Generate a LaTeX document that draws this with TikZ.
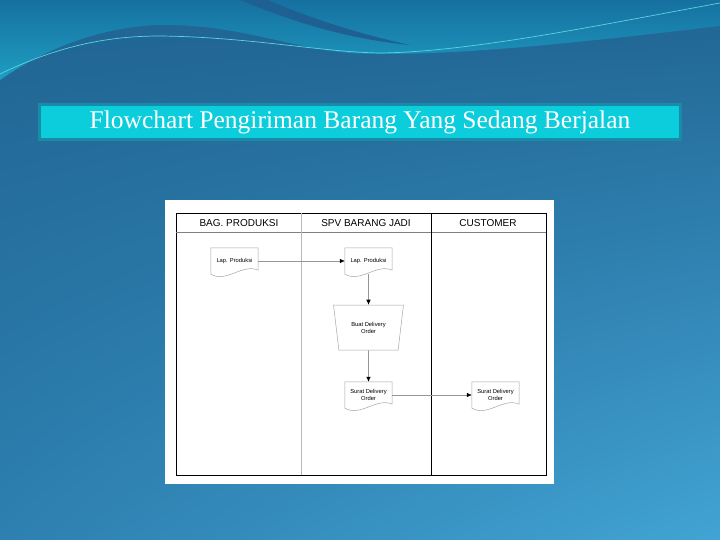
\documentclass[tikz,border=0pt]{standalone}
\usepackage{fontspec}
\setmainfont{Liberation Serif}
\newfontfamily\chartfont{Liberation Sans}
\usetikzlibrary{shapes.geometric,arrows.meta,calc,shadings}

\definecolor{bgdark}{RGB}{32,100,146}
\definecolor{bgmid}{RGB}{45,128,176}
\definecolor{bglight}{RGB}{66,164,212}
\definecolor{bandtop}{RGB}{22,112,160}
\definecolor{bandlow}{RGB}{30,158,194}
\definecolor{waveline}{RGB}{90,212,226}
\definecolor{swoosh}{RGB}{30,96,146}
\definecolor{titlefill}{RGB}{12,205,220}
\definecolor{titleedge}{RGB}{24,140,166}
\definecolor{docline}{RGB}{165,165,165}
\definecolor{flowline}{RGB}{150,150,150}

\tikzset{
  docbox/.style={minimum width=47pt, minimum height=26pt, inner sep=1pt, align=center,
    font=\chartfont\fontsize{5.8}{7}\selectfont},
  lanehead/.style={font=\chartfont\fontsize{10}{12}\selectfont},
  flow/.style={draw=flowline, line width=0.6pt, -{Latex[length=5pt,width=4.5pt,color=black]}},
}

\begin{document}
\begin{tikzpicture}[x=1pt, y=-1pt]
    \useasboundingbox (0,0) rectangle (720,540);

    % Background
    \shade[upper left=bgdark, upper right=bgdark, lower left=bgmid, lower right=bglight]
        (0,0) rectangle (720,540);
    \shade[top color=bandtop, bottom color=bandlow] (0,0) -- (0,80) .. controls (50,45) and (110,25) .. (165,25)
        .. controls (240,25) and (290,48) .. (350,53) .. controls (450,58) and (600,40) .. (720,26)
        -- (720,0) -- cycle;
    \fill[swoosh] (240,0) .. controls (290,20) and (340,38) .. (410,45)
        .. controls (350,32) and (300,14) .. (268,0) -- cycle;
    \draw[waveline, line width=0.7pt] (0,74) .. controls (60,45) and (110,36) .. (160,36)
        .. controls (250,37) and (320,52) .. (380,53) .. controls (470,52) and (600,25) .. (720,3);

    % Title
    \node[draw=titleedge, line width=2.5pt, fill=titlefill, minimum width=641pt, minimum height=35pt,
        text=white, font=\fontsize{25.5}{28}\selectfont] (title) at (360,122)
        {Flowchart Pengiriman Barang Yang Sedang Berjalan};

    % Flowchart sheet
    \fill[white] (165,200) rectangle (554,484);
    \draw[black, line width=0.8pt] (176,213) rectangle (546,475);
    \draw[gray, line width=0.6pt] (176,232) -- (546,232);
    \draw[docline!80, line width=0.8pt] (301,213) -- (301,475);
    \draw[black, line width=0.8pt] (431,213) -- (431,475);

    % Lane headers
    \node[lanehead] (prod) at (239,223) {BAG. PRODUKSI};
    \node[lanehead] (spv) at (366,223) {SPV BARANG JADI};
    \node[lanehead] (cust) at (488,223) {CUSTOMER};

    % Documents and process
    \node[docbox] (lap1) at (234.5,261) {Lap. Produksi};
    \node[docbox] (lap2) at (368.5,261) {Lap. Produksi};
    \node[trapezium, trapezium angle=76, shape border rotate=180, trapezium stretches=true,
        minimum width=70pt, minimum height=45pt, draw=docline, line width=0.5pt, align=center,
        inner sep=1pt, font=\chartfont\fontsize{5.8}{7}\selectfont] (buat) at (368.5,327.5)
        {Buat Delivery\\Order};
    \node[docbox] (surat1) at (368.5,395) {Surat Delivery\\Order};
    \node[docbox] (surat2) at (495.5,395) {Surat Delivery\\Order};

    \foreach \d in {lap1,lap2,surat1,surat2} {
        \draw[docline, line width=0.5pt] (\d.south west) -- (\d.north west) -- (\d.north east)
            -- ($(\d.south east)+(0,-4)$) .. controls +(-16,-7) and +(16,9) .. (\d.south west);
    }

    % Arrows
    \draw[flow] (lap1.east) -- (lap2.west);
    \draw[flow] (lap2.south) -- (buat.north);
    \draw[flow] (buat.south) -- (surat1.north);
    \draw[flow] (surat1.east) -- (surat2.west);
\end{tikzpicture}
\end{document}
